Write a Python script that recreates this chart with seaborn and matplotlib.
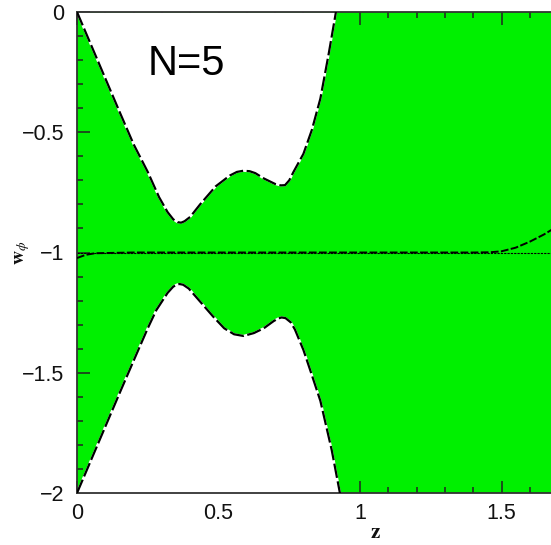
import matplotlib
matplotlib.use("Agg")
import matplotlib.pyplot as plt
import seaborn as sns
import pandas as pd
from matplotlib.ticker import MultipleLocator

# ---- data ----
z_up = [0.0, 0.05, 0.10, 0.15, 0.20, 0.25, 0.29, 0.32, 0.34, 0.355, 0.368, 0.38, 0.40, 0.435,
        0.49, 0.54, 0.565, 0.588, 0.61, 0.63, 0.66, 0.70, 0.72, 0.735, 0.75, 0.765, 0.80, 0.83,
        0.86, 0.89, 0.915]
w_up = [0.0, -0.138, -0.276, -0.414, -0.55, -0.665, -0.77, -0.832, -0.862, -0.874, -0.876, -0.870,
        -0.852, -0.80, -0.725, -0.68, -0.665, -0.66, -0.662, -0.67, -0.692, -0.715, -0.721, -0.72,
        -0.70, -0.665, -0.59, -0.49, -0.36, -0.17, 0.0]

z_lo = [0.0, 0.05, 0.10, 0.15, 0.20, 0.25, 0.28, 0.32, 0.34, 0.352, 0.362, 0.375, 0.395, 0.435,
        0.48, 0.52, 0.555, 0.588, 0.625, 0.66, 0.695, 0.712, 0.723, 0.737, 0.755, 0.77, 0.80, 0.83,
        0.86, 0.90, 0.929]
w_lo = [-2.0, -1.862, -1.724, -1.586, -1.45, -1.315, -1.24, -1.168, -1.142, -1.134, -1.131, -1.134,
        -1.15, -1.204, -1.265, -1.315, -1.34, -1.347, -1.335, -1.315, -1.285, -1.274, -1.27, -1.273,
        -1.29, -1.32, -1.405, -1.51, -1.617, -1.821, -2.0]

z_mid = [0.0, 0.03, 0.064, 0.2, 0.6, 1.0, 1.4, 1.46, 1.50, 1.55, 1.60, 1.65, 1.72]
w_mid = [-1.023, -1.01, -1.003, -1.0, -1.0, -1.0, -1.0, -0.999, -0.995, -0.98, -0.955, -0.925, -0.875]

z_ref = [0.0, 2.1]
w_ref = [-1.0, -1.0]

label_text = "N=5"
x_ticks = [0, 0.5, 1, 1.5]
y_ticks = [-2, -1.5, -1, -0.5, 0]

GREEN = "#00F000"

sns.set_style("ticks")
plt.rcParams["font.family"] = ["Liberation Sans", "DejaVu Sans"]
plt.rcParams["mathtext.fontset"] = "stix"

fig = plt.figure(figsize=(5.51, 5.45), dpi=100)
W, H = 551, 545
ax = fig.add_axes([77 / W, (H - 493) / H, (673 - 77) / W, (493 - 12) / H])
ax.set_facecolor(GREEN)

ax.set_xlim(0, 2.106)
ax.set_ylim(-2, 0)

# white regions outside the band
ax.fill_between(z_up, w_up, 0, color="white", lw=0, zorder=1)
ax.fill_between(z_lo, w_lo, -2, color="white", lw=0, zorder=1)

df_up = pd.DataFrame({"z": z_up, "w": w_up})
df_lo = pd.DataFrame({"z": z_lo, "w": w_lo})
df_mid = pd.DataFrame({"z": z_mid, "w": w_mid})
df_ref = pd.DataFrame({"z": z_ref, "w": w_ref})

for d in (df_up, df_lo):
    sns.lineplot(data=d, x="z", y="w", ax=ax, color="white", lw=1.6, sort=False,
                 estimator=None, zorder=2)
    sns.lineplot(data=d, x="z", y="w", ax=ax, color="black", lw=1.6, sort=False,
                 estimator=None, zorder=3, linestyle=(0, (6.5, 1.6)))

sns.lineplot(data=df_ref, x="z", y="w", ax=ax, color="black", lw=0.8, sort=False,
             estimator=None, zorder=2, linestyle=(0, (2, 1)))
sns.lineplot(data=df_mid, x="z", y="w", ax=ax, color="black", lw=1.4, sort=False,
             estimator=None, zorder=3, linestyle=(0, (4, 1.2)))

ax.text(0.251, -0.262, label_text, fontsize=30, ha="left", va="baseline", color="black",
        family=["Liberation Sans", "DejaVu Sans"], zorder=5)

ax.set_xticks(x_ticks)
ax.set_yticks(y_ticks)
ax.set_xticklabels([f"{t:g}" for t in x_ticks])
ax.set_yticklabels([f"{t:g}".replace("-", "\u2212") for t in y_ticks])
ax.xaxis.set_minor_locator(MultipleLocator(0.1))
ax.yaxis.set_minor_locator(MultipleLocator(0.1))
ax.tick_params(which="both", direction="in", top=True, right=False, bottom=True, left=True,
               color="#222222", width=1.1)
ax.tick_params(which="major", length=9, labelsize=15.5, labelcolor="#111111")
ax.tick_params(axis="x", which="major", pad=7)
ax.tick_params(axis="y", which="major", pad=9)
ax.tick_params(which="minor", length=4.5)

for s in ("left", "bottom", "top"):
    ax.spines[s].set_color("#333333")
    ax.spines[s].set_linewidth(1.3)
ax.spines["right"].set_visible(False)

ax.set_xlabel(r"$\mathbf{z}$", fontsize=15, color="#111111")
ax.set_ylabel(r"$\mathbf{w}_{\phi}$", fontsize=14, color="#111111")
ax.xaxis.set_label_coords(0.5, -0.062)
ax.yaxis.set_label_coords(-0.076, 0.5)

fig.savefig("out.png", dpi=100)
